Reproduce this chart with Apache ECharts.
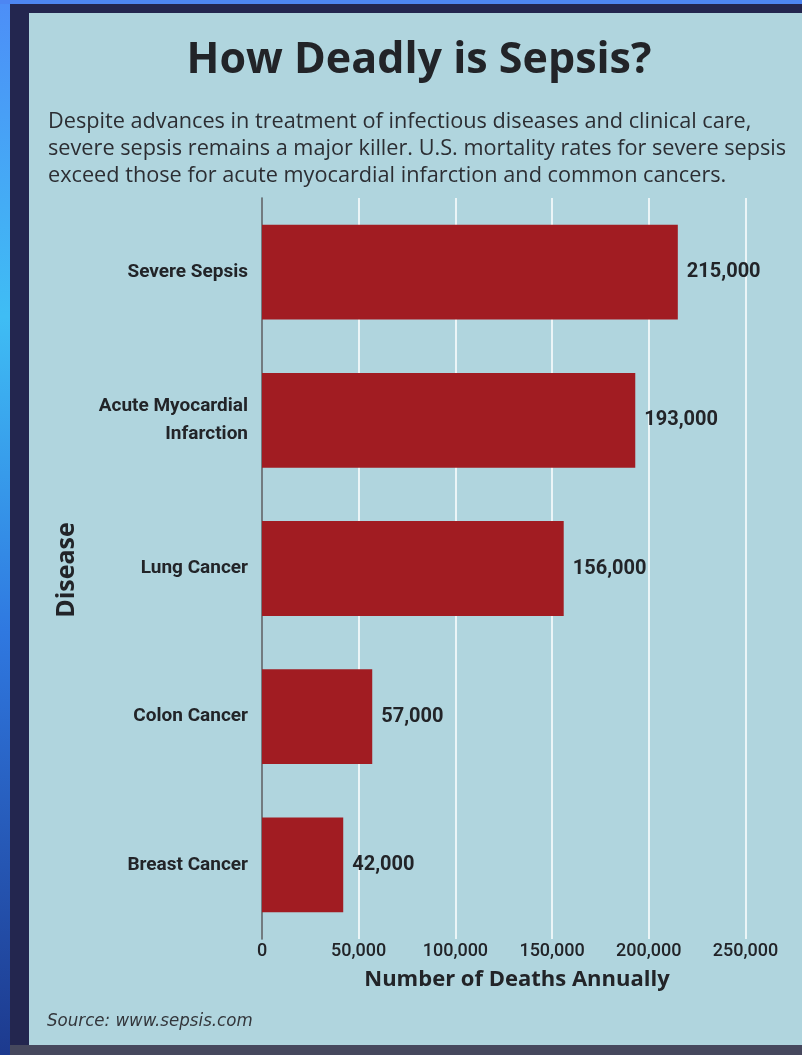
<!DOCTYPE html>
<html>
<head>
<meta charset="utf-8">
<script src="https://cdn.jsdelivr.net/npm/echarts@6/dist/echarts.min.js"></script>
<style>
  html, body { margin: 0; padding: 0; background: #23264f; }
  #chart { width: 802px; height: 1055px; }
</style>
</head>
<body>
<div id="chart"></div>
<script>
// Annual U.S. deaths by disease
const categories = ['Severe Sepsis', 'Acute Myocardial\nInfarction', 'Lung Cancer', 'Colon Cancer', 'Breast Cancer'];
const deaths = [215000, 193000, 156000, 57000, 42000];
const xTicks = { min: 0, max: 250000, interval: 50000 };

const titleText = 'How Deadly is Sepsis?';
const introLines = [
  'Despite advances in treatment of infectious diseases and clinical care,',
  'severe sepsis remains a major killer. U.S. mortality rates for severe sepsis',
  'exceed those for acute myocardial infarction and common cancers.'
];
const sourceText = 'Source: www.sepsis.com';

const labelFont = 'Roboto, "Noto Sans", sans-serif';
const narrow = '"DejaVu Sans Condensed", "Liberation Sans Narrow", sans-serif';
const humanist = '"Open Sans", "Noto Sans", sans-serif';
const ink = '#222428';
const fmt = v => v.toLocaleString('en-US');

const chart = echarts.init(document.getElementById('chart'), null, { renderer: 'canvas' });

// intro paragraph, one text element per line
const introGraphics = introLines.map((line, i) => ({
  type: 'text', x: 48, y: 121.5 + i * 27,
  style: { text: line, font: '21.7px ' + humanist, fill: '#2c2e33', verticalAlign: 'middle' }
}));

chart.setOption({
  backgroundColor: '#23264f',
  animation: false,
  graphic: [
    // outer slide edge and frame
    { type: 'rect', z: -10, shape: { x: 0, y: 0, width: 10, height: 1055 },
      style: { fill: new echarts.graphic.LinearGradient(0, 0, 0, 1, [
        { offset: 0, color: '#4d8ef7' }, { offset: 0.3, color: '#3fbdf4' },
        { offset: 0.6, color: '#2f78e0' }, { offset: 1, color: '#1d3a8e' }]) } },
    { type: 'rect', z: -10, shape: { x: 0, y: 0, width: 802, height: 4 },
      style: { fill: '#4d86f2' } },
    { type: 'rect', z: -10, shape: { x: 10, y: 1045, width: 792, height: 10 },
      style: { fill: '#46485d' } },
    // light panel
    { type: 'rect', z: -9, shape: { x: 29, y: 13, width: 773, height: 1032 },
      style: { fill: '#b0d5de' } },
    // heading
    { type: 'text', x: 419, y: 61,
      style: { text: titleText, font: 'bold 43px ' + humanist, fill: ink, align: 'center', verticalAlign: 'middle' } },
    ...introGraphics,
    // vertical axis title
    { type: 'text', x: 67, y: 570, rotation: Math.PI / 2,
      style: { text: 'Disease', font: 'bold 25px ' + humanist, fill: ink, align: 'center', verticalAlign: 'middle' } },
    // horizontal axis title
    { type: 'text', x: 517, y: 980,
      style: { text: 'Number of Deaths Annually', font: 'bold 22px ' + humanist, fill: ink, align: 'center', verticalAlign: 'middle' } },
    // source
    { type: 'text', x: 47, y: 1021,
      style: { text: sourceText, font: 'italic 18.5px ' + narrow, fill: '#33363b', verticalAlign: 'middle' } }
  ],
  grid: { left: 262, top: 198, width: 483.5, height: 741, containLabel: false },
  xAxis: {
    type: 'value',
    min: xTicks.min, max: xTicks.max, interval: xTicks.interval,
    axisLine: { show: false },
    axisTick: { show: false },
    axisLabel: { color: ink, fontFamily: labelFont, fontWeight: 500, fontSize: 18, margin: 3, formatter: v => fmt(v) },
    splitLine: { show: true, lineStyle: { color: 'rgba(255,255,255,0.75)', width: 2 } }
  },
  yAxis: {
    type: 'category',
    data: categories,
    inverse: true,
    axisLine: { show: true, lineStyle: { color: '#4a5258', width: 1.5 } },
    axisTick: { show: false },
    axisLabel: { color: ink, fontFamily: labelFont, fontWeight: 'bold', fontSize: 19, margin: 14, lineHeight: 28, align: 'right' },
    splitLine: { show: false }
  },
  series: [{
    type: 'bar',
    data: deaths,
    barCategoryGap: '36%',
    itemStyle: { color: '#a11c22' },
    label: {
      show: true, position: 'right', distance: 9,
      color: ink, fontFamily: labelFont, fontWeight: 'bold', fontSize: 20,
      formatter: p => fmt(p.value)
    }
  }]
});
</script>
</body>
</html>
